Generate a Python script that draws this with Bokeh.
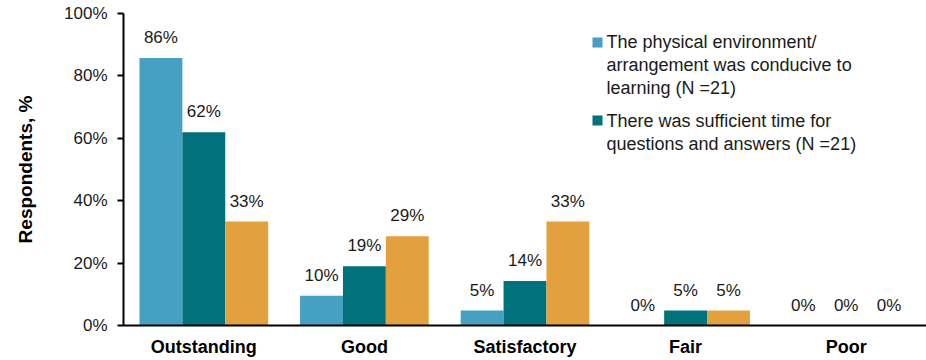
from bokeh.plotting import figure
from bokeh.models import (ColumnDataSource, FactorRange, LabelSet, Label, BoxAnnotation,
                          FixedTicker, CustomJSTickFormatter, Range1d)
from bokeh.core.properties import value
from bokeh.transform import dodge
from bokeh.embed import file_html
from bokeh.resources import INLINE

categories = ["Outstanding", "Good", "Satisfactory", "Fair", "Poor"]
environment = [85.7, 9.5, 4.8, 0.0, 0.0]
sufficient_time = [61.9, 19.0, 14.3, 4.8, 0.0]
third_series = [33.3, 28.6, 33.3, 4.8, 0.0]
series_names = [
    "The physical environment/\narrangement was conducive to\nlearning (N =21)",
    "There was sufficient time for\nquestions and answers (N =21)",
]
colors = ["#45A0C2", "#01727B", "#E2A13E"]
y_ticks = [0, 20, 40, 60, 80, 100]

FONT = "Liberation Sans"

p = figure(width=926, height=360, x_range=FactorRange(factors=categories, range_padding=0),
           y_range=Range1d(0, 100), output_backend="svg", toolbar_location=None,
           min_border_left=123, min_border_right=0, min_border_top=13, min_border_bottom=35)
p.outline_line_color = None
p.xgrid.visible = False
p.ygrid.visible = False

bw = 0.267
offsets = [-bw, 0.0, bw]
all_series = [environment, sufficient_time, third_series]
for vals, off, col in zip(all_series, offsets, colors):
    src = ColumnDataSource(dict(cat=categories, val=vals,
                                lab=[f"{round(v)}%" for v in vals]))
    p.vbar(x=dodge("cat", off, range=p.x_range), top="val", width=bw, source=src,
           fill_color=col, line_color=None)
    lbl = LabelSet(x=dodge("cat", off, range=p.x_range), y="val", text="lab", source=src,
                   text_align="center", text_baseline="alphabetic", y_offset=15,
                   text_font=value(FONT), text_font_size=value("17px"), text_color="#1a1a1a")
    p.add_layout(lbl)

# legend (manual, glyph aligned with the first text line)
legend_rows = [(278, 294), (200, 215)]  # (square bottom, text top) in screen px above frame bottom
for (sq_bottom, txt_top), name, col in zip(legend_rows, series_names, colors):
    p.add_layout(BoxAnnotation(left=469, right=479, bottom=sq_bottom, top=sq_bottom + 10,
                               left_units="screen", right_units="screen",
                               bottom_units="screen", top_units="screen",
                               fill_color=col, fill_alpha=1, line_color=None))
    p.add_layout(Label(x=483, y=txt_top, x_units="screen", y_units="screen", text=name,
                       text_font=FONT, text_font_size="18px", text_color="#1a1a1a",
                       text_baseline="top", text_align="left", text_line_height=1.17))

# y axis
p.yaxis.ticker = FixedTicker(ticks=y_ticks)
p.yaxis.formatter = CustomJSTickFormatter(code="return tick.toFixed(0) + '%';")
p.yaxis.axis_line_width = 2
p.yaxis.axis_line_color = "black"
p.yaxis.major_tick_line_width = 2
p.yaxis.major_tick_line_color = "black"
p.yaxis.major_tick_out = 6
p.yaxis.major_tick_in = 0
p.yaxis.minor_tick_line_color = None
p.yaxis.major_label_standoff = 10
p.yaxis.major_label_text_font = FONT
p.yaxis.major_label_text_font_size = "17px"
p.yaxis.major_label_text_color = "#1a1a1a"
p.yaxis.axis_label = "Respondents, %"
p.yaxis.axis_label_text_font = FONT
p.yaxis.axis_label_text_font_size = "19px"
p.yaxis.axis_label_text_font_style = "bold"
p.yaxis.axis_label_text_color = "black"
p.yaxis.axis_label_standoff = 25

# x axis
p.xaxis.axis_line_width = 2
p.xaxis.axis_line_color = "black"
p.xaxis.major_tick_line_color = None
p.xaxis.minor_tick_line_color = None
p.xaxis.major_label_standoff = 5
p.xaxis.major_label_text_font = FONT
p.xaxis.major_label_text_font_size = "18px"
p.xaxis.major_label_text_font_style = "bold"
p.xaxis.major_label_text_color = "black"

open("out.html", "w").write(file_html(p, INLINE))
